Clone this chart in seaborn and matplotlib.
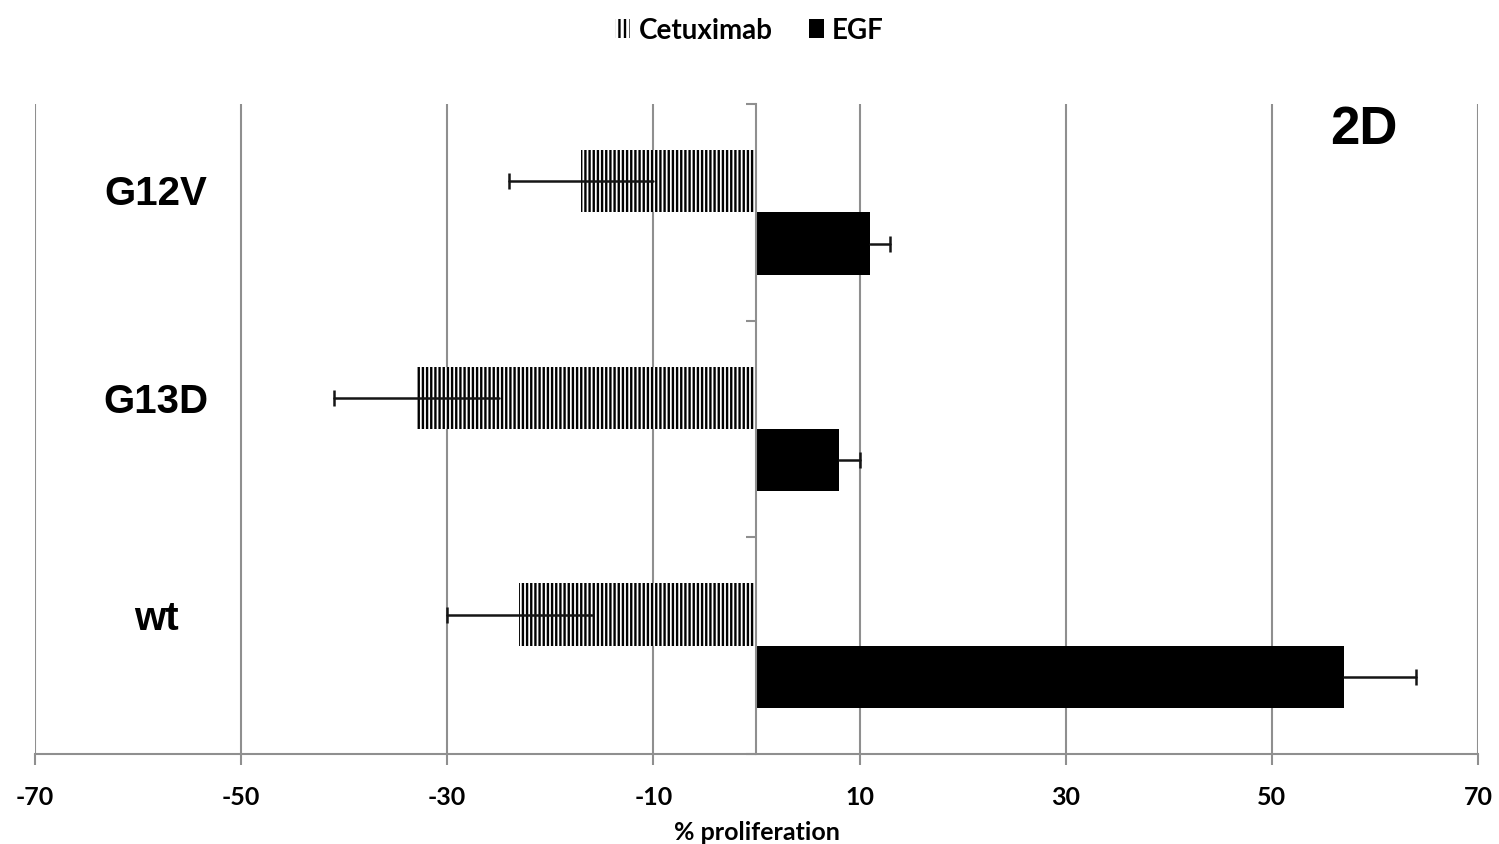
import matplotlib
matplotlib.use("Agg")
import matplotlib.pyplot as plt
import matplotlib.patches as mpatches
import seaborn as sns
import pandas as pd
from matplotlib.transforms import blended_transform_factory

# ---- data ----
categories = ["G12V", "G13D", "wt"]
treatments = ["Cetuximab", "EGF"]
cetuximab = [-17, -33, -23]
cetuximab_err = [7, 8, 7]
egf = [11, 8, 57]
egf_err = [2, 2, 7]
xticks = [-70, -50, -30, -10, 10, 30, 50, 70]

df = pd.DataFrame({
    "mutation": categories * 2,
    "treatment": [treatments[0]] * 3 + [treatments[1]] * 3,
    "value": cetuximab + egf,
})

sns.set_style("white")
plt.rcParams["hatch.linewidth"] = 1.7
plt.rcParams["font.family"] = ["Lato", "DejaVu Sans"]
plt.rcParams["font.weight"] = "bold"
plt.rcParams["text.color"] = "black"
plt.rcParams["xtick.labelcolor"] = "black"
plt.rcParams["axes.labelcolor"] = "black"

fig = plt.figure(figsize=(14.99, 8.45), dpi=100)
ax = fig.add_axes([0.0233, 0.1065, 0.9627, 0.7692])

sns.barplot(data=df, y="mutation", x="value", hue="treatment", orient="h",
            order=categories, hue_order=treatments, palette=["white", "black"],
            width=0.575, legend=False, ax=ax, errorbar=None)

gray = "#8f8f8f"
# style bars
for bar in ax.containers[0]:
    bar.set_facecolor("white")
    bar.set_edgecolor("black")
    bar.set_linewidth(0)
    bar.set_hatch("||||")
for bar in ax.containers[1]:
    bar.set_facecolor("black")
    bar.set_edgecolor("black")
    bar.set_linewidth(0)

# error bars
ecol = "#151515"
for bar, e in zip(ax.containers[0], cetuximab_err):
    v = bar.get_width()
    y = bar.get_y() + bar.get_height() / 2
    ax.plot([v - e, v + e], [y, y], color=ecol, lw=1.8, zorder=5)
    ax.plot([v - e], [y], marker="|", ms=11, mew=1.8, color=ecol, zorder=5)
for bar, e in zip(ax.containers[1], egf_err):
    v = bar.get_width()
    y = bar.get_y() + bar.get_height() / 2
    ax.plot([v, v + e], [y, y], color=ecol, lw=1.8, zorder=5)
    ax.plot([v + e], [y], marker="|", ms=11, mew=1.8, color=ecol, zorder=5)

ax.set_xlim(-70, 70)
ax.set_ylim(len(categories) - 0.5, -0.5)
ax.set_xticks(xticks)
ax.set_xticklabels([str(t) for t in xticks], fontsize=18, fontweight="bold", color="black")
ax.xaxis.grid(True, color=gray, linewidth=1.5)
ax.set_axisbelow(True)
ax.tick_params(axis="x", direction="out", length=8, width=1.5, color=gray, pad=14, bottom=True)

# zero axis with category separators
ax.spines["left"].set_position(("data", 0))
ax.spines["left"].set_color(gray)
ax.spines["left"].set_linewidth(1.5)
ax.spines["left"].set_zorder(4)
ax.set_yticks([i + 0.5 for i in range(-1, len(categories))])
ax.set_yticklabels([])
ax.tick_params(axis="y", direction="out", length=7, width=1.5, color=gray, left=True)
ax.spines["bottom"].set_color(gray)
ax.spines["bottom"].set_linewidth(1.5)
ax.spines["top"].set_visible(False)
ax.spines["right"].set_visible(False)
ax.set_ylabel("")
ax.set_xlabel("% proliferation", fontsize=18, fontweight="bold", labelpad=9, color="black")

# category labels
trans = blended_transform_factory(ax.transAxes, ax.transData)
offsets = [-0.09, -0.13, -0.13]
for i, c in enumerate(categories):
    ax.text(0.084, i + offsets[i], c, transform=trans, ha="center", va="center",
            fontsize=29, fontweight="bold", color="black",
            family=["Liberation Sans", "DejaVu Sans"])

ax.text(0.921, 0.962, "2D", transform=ax.transAxes, ha="center", va="center",
        fontsize=38, fontweight="bold", color="black", family=["Liberation Sans", "DejaVu Sans"])

# legend
handles = [mpatches.Patch(facecolor="white", edgecolor="black", linewidth=0, hatch="|||", label=treatments[0]),
           mpatches.Patch(facecolor="black", edgecolor="black", linewidth=0, label=treatments[1])]
fig.legend(handles=handles, loc="upper center", bbox_to_anchor=(0.5, 1.008), ncol=2,
           frameon=False, handlelength=0.55, handleheight=0.7, handletextpad=0.3,
           columnspacing=1.3, prop={"size": 20, "weight": "bold"})

fig.savefig("out.png", dpi=100)
